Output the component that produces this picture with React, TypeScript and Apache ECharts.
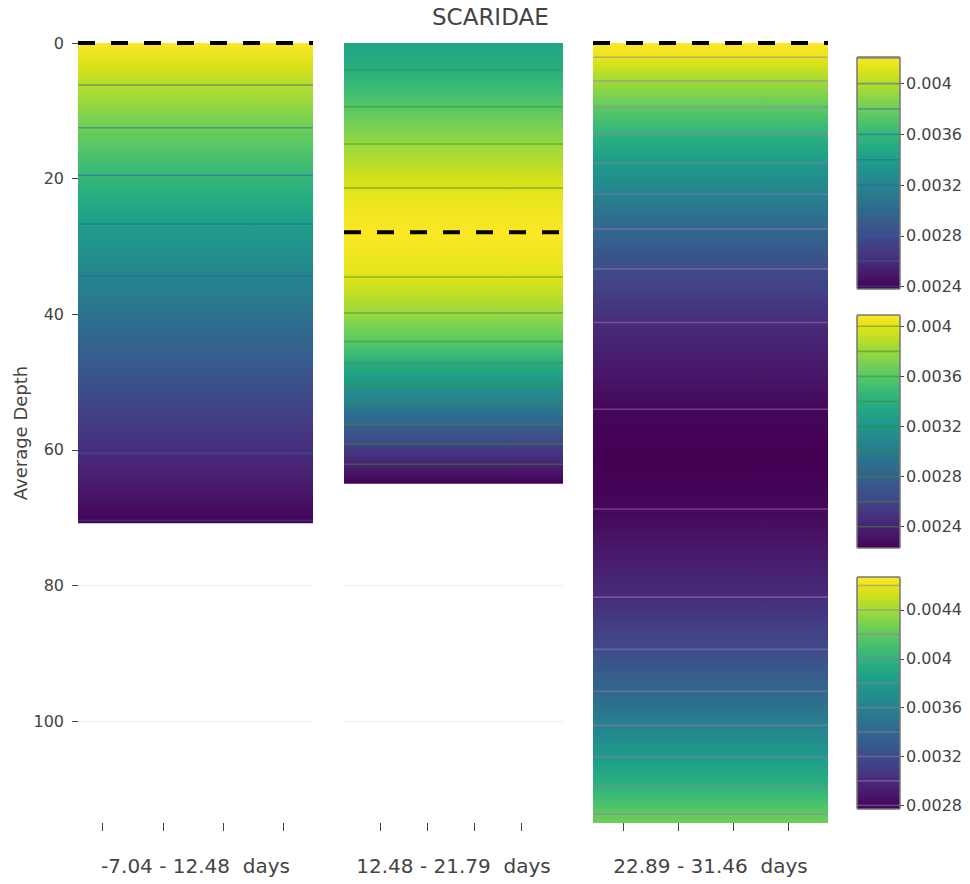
import React, { useEffect, useRef } from "react";
import * as echarts from "echarts";

// ---------------- data ----------------
const chartTitle = "SCARIDAE";
const panelLabels = ["-7.04 - 12.48  days", "12.48 - 21.79  days", "22.89 - 31.46  days"];
const dayRanges: number[][] = [
  [-7.04, 12.48],
  [12.48, 21.79],
  [22.89, 31.46],
];
const dayTicks: number[][] = [
  [-5, 0, 5, 10],
  [14, 16, 18, 20],
  [24, 26, 28, 30],
];
const depthTicks = [0, 20, 40, 60, 80, 100];
const depthMax = 115;

// depth profiles (depth, value) per panel
const depths1 = [0, 6.2, 12.5, 19.5, 26.7, 34.4, 42.5, 51.2, 60.5, 70.4, 70.8];
const values1 = [0.00421, 0.004, 0.0038, 0.0036, 0.0034, 0.0032, 0.003, 0.0028, 0.0026, 0.0024, 0.00238];

const depths2 = [0, 4.0, 9.4, 14.9, 21.4, 27.9, 34.5, 39.8, 44.0, 47.2, 50.3, 53.2, 56.2, 59.1, 62.1, 65.0];
const values2 = [0.00331, 0.0034, 0.0036, 0.0038, 0.004, 0.00409, 0.004, 0.0038, 0.0036, 0.0034, 0.0032, 0.003, 0.0028, 0.0026, 0.0024, 0.00223];

const depths3 = [0, 2.1, 5.6, 9.4, 13.4, 17.7, 22.3, 27.4, 33.3, 41.2, 54.0, 61.3, 68.7, 81.7, 89.4, 95.6, 100.6, 105.3, 109.7, 113.7, 115.0];
const values3 = [0.00467, 0.0046, 0.0044, 0.0042, 0.004, 0.0038, 0.0036, 0.0034, 0.0032, 0.003, 0.0028, 0.00277, 0.0028, 0.003, 0.0032, 0.0034, 0.0036, 0.0038, 0.004, 0.0042, 0.00425];

const colorbarTicks: number[][] = [
  [0.0024, 0.0028, 0.0032, 0.0036, 0.004],
  [0.0024, 0.0028, 0.0032, 0.0036, 0.004],
  [0.0028, 0.0032, 0.0036, 0.004, 0.0044],
];
const contourStep = 0.0002;

// ---------------- styles ----------------
const FONT = "DejaVu Sans";
const TEXT = "#444";
const lineColors = ["rgba(40,95,170,0.5)", "rgba(60,140,45,0.5)", "rgba(150,120,170,0.5)"];
const VIR = [
  "#440154", "#48186a", "#472d7b", "#424086", "#3b528b", "#33638d", "#2c728e", "#26828e",
  "#21918c", "#1fa088", "#28ae80", "#3fbc73", "#5ec962", "#84d44b", "#addc30", "#d8e219", "#fde725",
];

function hexToRgb(h: string) {
  return [parseInt(h.slice(1, 3), 16), parseInt(h.slice(3, 5), 16), parseInt(h.slice(5, 7), 16)];
}
function viridis(t: number) {
  const c = Math.max(0, Math.min(1, t));
  const p = c * (VIR.length - 1);
  const i = Math.min(Math.floor(p), VIR.length - 2);
  const f = p - i;
  const a = hexToRgb(VIR[i]);
  const b = hexToRgb(VIR[i + 1]);
  const r = a.map((v, k) => Math.round(v + (b[k] - v) * f));
  return `rgb(${r[0]},${r[1]},${r[2]})`;
}
const isLevel = (v: number) => Math.abs(v / contourStep - Math.round(v / contourStep)) < 1e-6;

const profiles = [
  { d: depths1, v: values1 },
  { d: depths2, v: values2 },
  { d: depths3, v: values3 },
];

export default function App() {
  const ref = useRef<HTMLDivElement>(null);
  useEffect(() => {
    if (!ref.current) return;
    const chart = echarts.init(ref.current, undefined, { renderer: "svg" });

    const panelGrids = [
      { left: 78, top: 43, width: 235, height: 780 },
      { left: 344, top: 43, width: 219, height: 780 },
      { left: 593, top: 43, width: 235, height: 780 },
    ];
    const cbGrids = [
      { left: 857, top: 57, width: 43, height: 232 },
      { left: 857, top: 315, width: 43, height: 233 },
      { left: 857, top: 577, width: 43, height: 232 },
    ];

    const pX: any[] = [];
    const pY: any[] = [];
    const cX: any[] = [];
    const cY: any[] = [];
    const series: any[] = [];

    profiles.forEach((p, i) => {
      const vmin = Math.min(...p.v);
      const vmax = Math.max(...p.v);
      const [x0, x1] = dayRanges[i];
      pX.push({
        type: "value",
        gridIndex: i,
        min: x0,
        max: x1,
        position: "bottom",
        axisLine: { show: false, onZero: false },
        axisTick: { show: true, length: 8, customValues: dayTicks[i], lineStyle: { color: TEXT, width: 1 } },
        axisLabel: { show: false },
        splitLine: { show: false },
        name: panelLabels[i],
        nameLocation: "middle",
        nameGap: 33,
        nameTextStyle: { fontSize: 20, color: TEXT, fontFamily: FONT },
      });
      pY.push({
        type: "value",
        gridIndex: i,
        inverse: true,
        min: 0,
        max: depthMax,
        position: "left",
        axisLine: { show: false, onZero: false },
        axisTick: { show: i === 0, length: 6, customValues: depthTicks, lineStyle: { color: TEXT } },
        axisLabel: {
          show: i === 0,
          customValues: depthTicks,
          margin: 14,
          fontSize: 16,
          color: TEXT,
          fontFamily: FONT,
        },
        splitLine: { show: true, lineStyle: { color: "#eeeeee", width: 1 } },
        name: i === 0 ? "Average Depth" : "",
        nameLocation: "middle",
        nameGap: 48,
        nameTextStyle: { fontSize: 18, color: TEXT, fontFamily: FONT },
      });

      const segs: number[][] = [];
      for (let k = 0; k < p.d.length - 1; k++) {
        segs.push([x0, x1, p.d[k], p.d[k + 1], p.v[k], p.v[k + 1]]);
      }
      const nSeg = segs.length;
      series.push({
        type: "custom",
        xAxisIndex: i,
        yAxisIndex: i,
        silent: true,
        z: 2,
        encode: { x: [0, 1], y: [2, 3] },
        data: segs,
        renderItem: (params: any, api: any) => {
          const a0 = api.value(0), a1 = api.value(1), d0 = api.value(2), d1 = api.value(3);
          const v0 = api.value(4), v1 = api.value(5);
          const p0 = api.coord([a0, d0]);
          const p1 = api.coord([a1, d1]);
          const stops: any[] = [];
          for (let k = 0; k <= 8; k++) {
            const t = k / 8;
            const v = v0 + (v1 - v0) * t;
            stops.push({ offset: t, color: viridis((v - vmin) / (vmax - vmin)) });
          }
          const extra = params.dataIndex < nSeg - 1 ? 0.7 : 0;
          return {
            type: "rect",
            shape: { x: p0[0], y: p0[1], width: p1[0] - p0[0], height: p1[1] - p0[1] + extra },
            style: { fill: new echarts.graphic.LinearGradient(0, 0, 0, 1, stops) },
          };
        },
      });

      const lines: number[][] = [];
      p.d.forEach((d, k) => {
        if (isLevel(p.v[k])) lines.push([x0, x1, d]);
      });
      series.push({
        type: "custom",
        xAxisIndex: i,
        yAxisIndex: i,
        silent: true,
        z: 3,
        encode: { x: [0, 1], y: 2 },
        data: lines,
        renderItem: (params: any, api: any) => {
          const a = api.coord([api.value(0), api.value(2)]);
          const b = api.coord([api.value(1), api.value(2)]);
          return {
            type: "line",
            shape: { x1: a[0], y1: a[1], x2: b[0], y2: b[1] },
            style: { stroke: lineColors[i], lineWidth: 1.6 },
          };
        },
      });

      const kMax = p.v.indexOf(vmax);
      series.push({
        type: "custom",
        xAxisIndex: i,
        yAxisIndex: i,
        silent: true,
        z: 4,
        encode: { x: [0, 1], y: 2 },
        data: [[x0, x1, p.d[kMax]]],
        renderItem: (params: any, api: any) => {
          const a = api.coord([api.value(0), api.value(2)]);
          const b = api.coord([api.value(1), api.value(2)]);
          return {
            type: "line",
            shape: { x1: a[0], y1: a[1], x2: b[0], y2: b[1] },
            style: { stroke: "#000", lineWidth: 4, lineDash: [17, 16] },
          };
        },
      });

      // colorbar
      const ci = 3 + i;
      cX.push({ type: "value", gridIndex: ci, min: 0, max: 1, show: false });
      cY.push({
        type: "value",
        gridIndex: ci,
        position: "right",
        min: vmin,
        max: vmax,
        axisLine: { show: false, onZero: false },
        axisTick: { show: true, length: 4, customValues: colorbarTicks[i], lineStyle: { color: TEXT } },
        axisLabel: {
          customValues: colorbarTicks[i],
          margin: 6,
          fontSize: 16,
          color: TEXT,
          fontFamily: FONT,
          formatter: (v: number) => String(Number(v.toFixed(6))),
        },
        splitLine: { show: false },
      });
      const levels: number[] = [];
      for (let L = Math.ceil(vmin / contourStep - 1e-6); L * contourStep <= vmax + 1e-12; L++) {
        levels.push(Number((L * contourStep).toFixed(6)));
      }
      series.push({
        type: "custom",
        xAxisIndex: ci,
        yAxisIndex: ci,
        silent: true,
        encode: { x: [0, 1], y: [2, 3] },
        data: [[0, 1, vmin, vmax]],
        renderItem: (params: any, api: any) => {
          const top = api.coord([0, api.value(3)]);
          const bot = api.coord([1, api.value(2)]);
          const stops = VIR.map((c, k) => ({ offset: k / (VIR.length - 1), color: VIR[VIR.length - 1 - k] }));
          const children: any[] = [
            {
              type: "rect",
              shape: { x: top[0], y: top[1], width: bot[0] - top[0], height: bot[1] - top[1] },
              style: { fill: new echarts.graphic.LinearGradient(0, 0, 0, 1, stops) },
            },
          ];
          levels.forEach((L) => {
            const a = api.coord([0, L]);
            const b = api.coord([1, L]);
            children.push({
              type: "line",
              shape: { x1: a[0], y1: a[1], x2: b[0], y2: b[1] },
              style: { stroke: lineColors[i], lineWidth: 1.6 },
            });
          });
          children.push({
            type: "rect",
            shape: { x: top[0], y: top[1], width: bot[0] - top[0], height: bot[1] - top[1], r: 1 },
            style: { fill: "none", stroke: "#777", lineWidth: 1.5 },
          });
          return { type: "group", children };
        },
      });
    });

    chart.setOption({
      animation: false,
      backgroundColor: "#fff",
      title: {
        text: chartTitle,
        left: 427,
        top: 0,
        textStyle: { fontSize: 23, fontWeight: "normal", color: TEXT, fontFamily: FONT },
      },
      grid: [...panelGrids, ...cbGrids],
      xAxis: [...pX, ...cX],
      yAxis: [...pY, ...cY],
      series,
    });
    return () => chart.dispose();
  }, []);
  return (
    <div
      ref={ref}
      style={{ position: "fixed", left: 0, top: 0, width: 970, height: 884, background: "#fff" }}
    />
  );
}
